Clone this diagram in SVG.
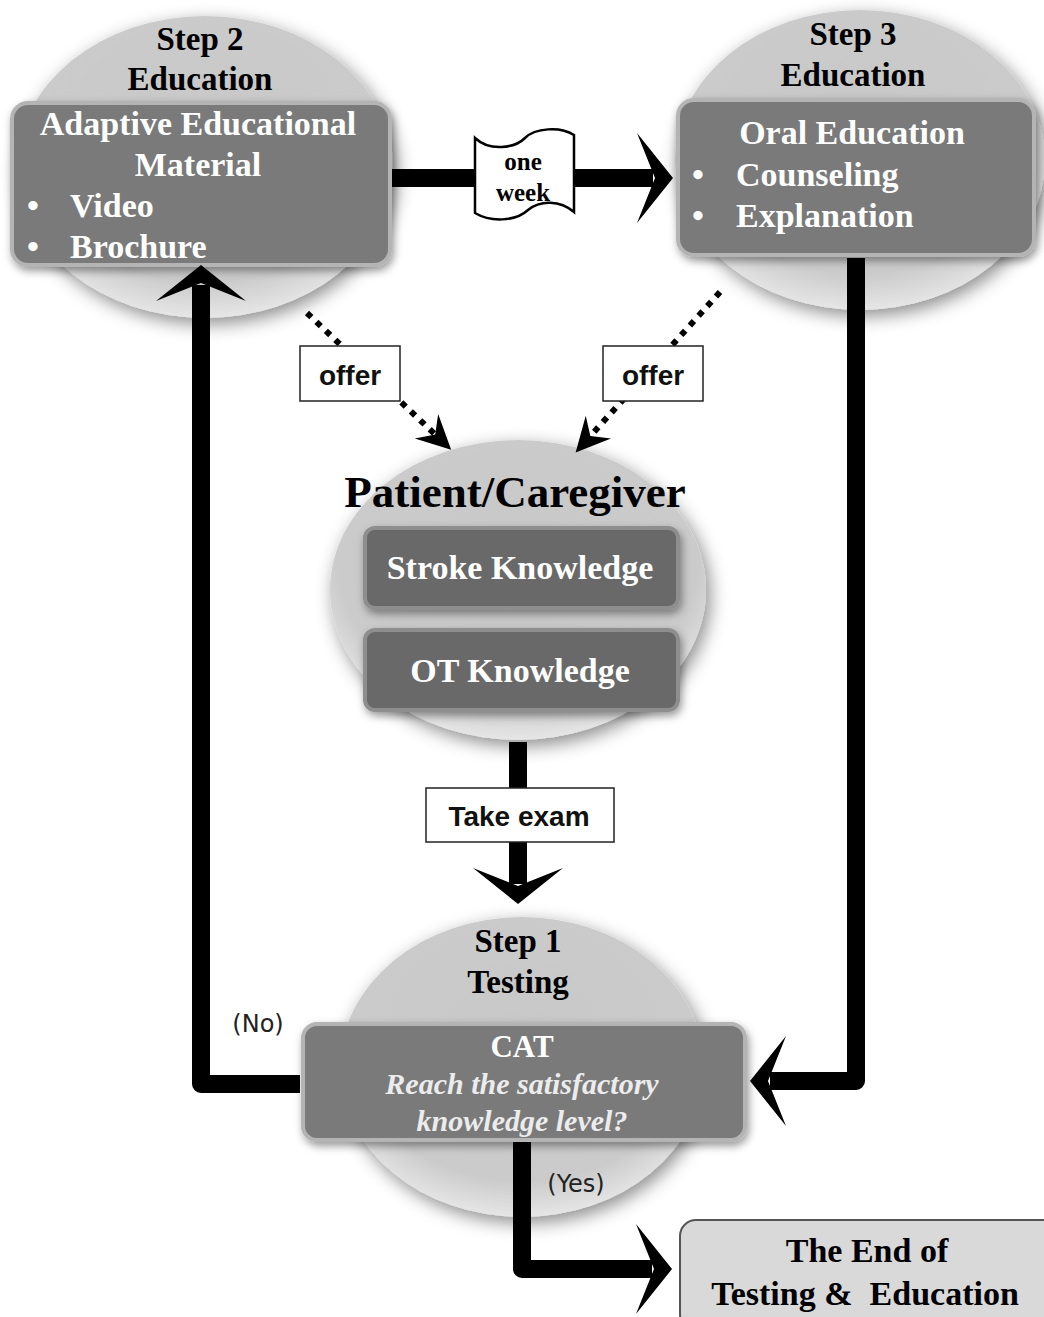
<svg xmlns="http://www.w3.org/2000/svg" width="1044" height="1317" viewBox="0 0 1044 1317">
<style>
.serif{font-family:"Liberation Serif","Times New Roman",serif;font-weight:bold}
.blk{fill:#000}
.wht{fill:#fff}
.t33{font-size:33px}
.t32{font-size:34px}
.sans{font-family:"Liberation Sans",Arial,sans-serif;font-weight:bold;font-size:28px;fill:#111}
.hand{font-family:"DejaVu Sans",sans-serif;font-size:24px;fill:#222}
.circ{fill:url(#cg);filter:url(#sh)}
.box{fill:#7a7a7a;stroke:#b4b4b4;stroke-width:4;filter:url(#bs)}
.box2{fill:#696969;stroke:#8e8e8e;stroke-width:4;filter:url(#bs)}
.lbl{fill:#fff;stroke:#222;stroke-width:1.5}
.thick{fill:none;stroke:#000;stroke-width:18;stroke-linejoin:round;marker-end:url(#ah)}
.dot{fill:none;stroke:#000;stroke-width:6;stroke-dasharray:6 7;marker-end:url(#ad)}
</style>
<defs>
<radialGradient id="cg" cx="0.5" cy="0.4" r="0.6">
<stop offset="0" stop-color="#c8c8c8"/>
<stop offset="0.8" stop-color="#cbcbcb"/>
<stop offset="1" stop-color="#e6e6e6"/>
</radialGradient>
<filter id="sh" x="-20%" y="-20%" width="140%" height="140%">
<feDropShadow dx="4" dy="6" stdDeviation="9" flood-color="#000" flood-opacity="0.45"/>
</filter>
<filter id="bs" x="-10%" y="-20%" width="120%" height="140%">
<feDropShadow dx="2" dy="4" stdDeviation="4" flood-color="#000" flood-opacity="0.4"/>
</filter>
<marker id="ah" markerUnits="userSpaceOnUse" orient="auto" overflow="visible" markerWidth="1" markerHeight="1">
<path d="M20,0 L-16,-45 L2,0 L-16,45 Z" fill="#000"/>
</marker>
<marker id="ad" markerUnits="userSpaceOnUse" orient="auto" overflow="visible" markerWidth="1" markerHeight="1">
<path d="M14,0 L-20,-17 L-8,0 L-20,17 Z" fill="#000"/>
</marker>
</defs>
<rect width="1044" height="1317" fill="#fff"/>

<g id="step2">
<ellipse class="circ" cx="205" cy="167" rx="188" ry="151"/>
<text class="serif blk t33" x="200" y="50" text-anchor="middle">Step 2</text>
<text class="serif blk t33" x="200" y="90" text-anchor="middle">Education</text>
<rect class="box" x="12" y="103" width="378" height="162" rx="16"/>
<text class="serif wht t32" x="198" y="135" text-anchor="middle">Adaptive Educational</text>
<text class="serif wht t32" x="198" y="176" text-anchor="middle">Material</text>
<text class="serif wht t32" x="27" y="217">•</text>
<text class="serif wht t32" x="70" y="217">Video</text>
<text class="serif wht t32" x="27" y="258">•</text>
<text class="serif wht t32" x="70" y="258">Brochure</text>
</g>

<g id="step3">
<ellipse class="circ" cx="860" cy="160" rx="185" ry="150"/>
<text class="serif blk t33" x="853" y="45" text-anchor="middle">Step 3</text>
<text class="serif blk t33" x="853" y="86" text-anchor="middle">Education</text>
<rect class="box" x="678" y="100" width="356" height="155" rx="16"/>
<text class="serif wht t32" x="852" y="144" text-anchor="middle">Oral Education</text>
<text class="serif wht t32" x="692" y="186">•</text>
<text class="serif wht t32" x="736" y="186">Counseling</text>
<text class="serif wht t32" x="692" y="227">•</text>
<text class="serif wht t32" x="736" y="227">Explanation</text>
</g>

<g id="patient">
<ellipse class="circ" cx="518" cy="590" rx="188" ry="150"/>
<text class="serif blk" x="515" y="507" text-anchor="middle" font-size="45">Patient/Caregiver</text>
<rect class="box2" x="365" y="528" width="313" height="80" rx="10"/>
<text class="serif wht t32" x="520" y="579" text-anchor="middle">Stroke Knowledge</text>
<rect class="box2" x="365" y="630" width="313" height="80" rx="10"/>
<text class="serif wht t32" x="520" y="682" text-anchor="middle">OT Knowledge</text>
</g>

<g id="step1">
<ellipse class="circ" cx="522" cy="1067" rx="182" ry="150"/>
<text class="serif blk t33" x="518" y="952" text-anchor="middle">Step 1</text>
<text class="serif blk t33" x="518" y="993" text-anchor="middle">Testing</text>
<rect class="box" x="303" y="1024" width="442" height="116" rx="14"/>
<text class="serif wht" x="522" y="1057" text-anchor="middle" font-size="31">CAT</text>
<text class="serif" x="522" y="1094" text-anchor="middle" font-size="30" font-style="italic" fill="#ececec">Reach the satisfactory</text>
<text class="serif" x="522" y="1131" text-anchor="middle" font-size="30" font-style="italic" fill="#ececec">knowledge level?</text>
</g>

<g id="end">
<rect x="680" y="1220" width="380" height="110" rx="16" fill="#d9d9d9" stroke="#555" stroke-width="2"/>
<text class="serif blk" x="867" y="1262" text-anchor="middle" font-size="34">The End of</text>
<text class="serif blk" x="865" y="1305" text-anchor="middle" font-size="34" xml:space="preserve">Testing &amp;  Education</text>
</g>

<g id="connectors">
<path class="thick" d="M392,178 H653"/>
<path class="thick" d="M856,258 V1081 H770"/>
<path class="thick" d="M300,1084 H201 V285"/>
<path class="thick" d="M518,742 V884"/>
<path class="thick" d="M522,1142 V1269 H652"/>
<path class="dot" d="M307,313 L441,440"/>
<path class="dot" d="M720,292 L585,442"/>
</g>

<g id="labels">
<path d="M475,138 C490,152 515,148 525,138 C535,128 560,126 574,135 L574,212 C560,200 540,200 528,210 C515,222 490,222 475,213 Z" fill="#fff" stroke="#000" stroke-width="2.5"/>
<text class="serif blk" x="523" y="170" text-anchor="middle" font-size="25">one</text>
<text class="serif blk" x="523" y="201" text-anchor="middle" font-size="25">week</text>
<rect class="lbl" x="300" y="346" width="100" height="55"/>
<text class="sans" x="350" y="385" text-anchor="middle">offer</text>
<rect class="lbl" x="603" y="346" width="100" height="55"/>
<text class="sans" x="653" y="385" text-anchor="middle">offer</text>
<rect class="lbl" x="426" y="788" width="188" height="54"/>
<text class="sans" x="519" y="826" text-anchor="middle">Take exam</text>
<text class="hand" x="258" y="1032" text-anchor="middle">(No)</text>
<text class="hand" x="576" y="1192" text-anchor="middle">(Yes)</text>
</g>
</svg>
